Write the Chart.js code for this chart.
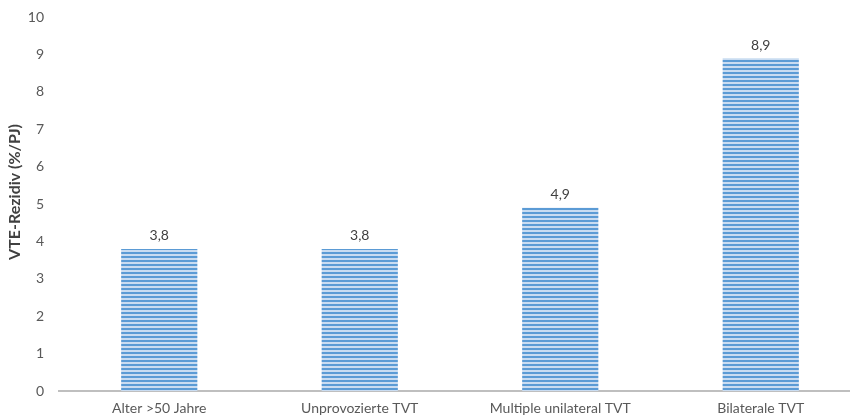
<!DOCTYPE html>
<html>
<head>
<meta charset="utf-8">
<script src="https://cdn.jsdelivr.net/npm/chart.js@4/dist/chart.umd.min.js"></script>
<style>
  html, body { margin: 0; padding: 0; background: #fff; overflow: hidden; }
  #wrap { width: 870px; height: 417px; }
</style>
</head>
<body>
<div id="wrap"><canvas id="c" width="870" height="417"></canvas></div>
<script>
const categories = ['Alter >50 Jahre', 'Unprovozierte TVT', 'Multiple unilateral TVT', 'Bilaterale TVT'];
const values = [3.8, 3.8, 4.9, 8.9];
const yTicks = [0, 1, 2, 3, 4, 5, 6, 7, 8, 9, 10];
const yTitle = 'VTE-Rezidiv (%/PJ)';

const FONT = 'Lato, "Open Sans", sans-serif';
const TEXT = '#595959';

// horizontal stripe fill for the bars
function stripes() {
  const p = document.createElement('canvas');
  p.width = 4; p.height = 4;
  const g = p.getContext('2d');
  g.fillStyle = '#c9dcf1';
  g.fillRect(0, 0, 4, 4);
  g.fillStyle = '#5b9bd5';
  g.fillRect(0, 0, 4, 2);
  return g.createPattern(p, 'repeat');
}

// value above each bar, with a decimal comma
const valueLabels = {
  id: 'valueLabels',
  afterDatasetsDraw(chart) {
    const ctx = chart.ctx;
    const meta = chart.getDatasetMeta(0);
    ctx.save();
    ctx.font = '14px ' + FONT;
    ctx.fillStyle = '#404040';
    ctx.textAlign = 'center';
    ctx.textBaseline = 'bottom';
    meta.data.forEach((bar, i) => {
      ctx.fillText(String(values[i]).replace('.', ','), bar.x, bar.y - 6);
    });
    ctx.restore();
  }
};

// rotated y-axis title at the left edge
const axisTitle = {
  id: 'axisTitle',
  afterDraw(chart) {
    const ctx = chart.ctx;
    ctx.save();
    ctx.translate(15, 192);
    ctx.rotate(-Math.PI / 2);
    ctx.font = 'bold 16px ' + FONT;
    ctx.fillStyle = '#404040';
    ctx.textAlign = 'center';
    ctx.textBaseline = 'middle';
    ctx.fillText(yTitle, 0, 0);
    ctx.restore();
  }
};

const ctx = document.getElementById('c').getContext('2d');
new Chart(ctx, {
  type: 'bar',
  data: {
    labels: categories,
    datasets: [{
      data: values,
      backgroundColor: stripes(),
      borderWidth: 0,
      categoryPercentage: 1,
      barPercentage: 0.38
    }]
  },
  options: {
    responsive: false,
    animation: false,
    layout: { padding: { top: 17, right: 9, left: 0, bottom: 0 } },
    plugins: { legend: { display: false }, tooltip: { enabled: false } },
    scales: {
      x: {
        grid: { display: false, drawTicks: false },
        border: { display: true, color: '#bfbfbf', width: 2 },
        ticks: { color: TEXT, font: { family: FONT, size: 14 }, padding: 9, maxRotation: 0 },
        afterFit(s) { s.height = 26; }
      },
      y: {
        min: 0, max: 10,
        afterBuildTicks(s) { s.ticks = yTicks.map(v => ({ value: v })); },
        grid: { display: false, drawTicks: false },
        border: { display: false },
        ticks: { color: TEXT, font: { family: FONT, size: 14 }, padding: 15 },
        afterFit(s) { s.width = 59; s.paddingTop = 0; s.paddingBottom = 0; }
      }
    }
  },
  plugins: [valueLabels, axisTitle]
});
</script>
</body>
</html>
